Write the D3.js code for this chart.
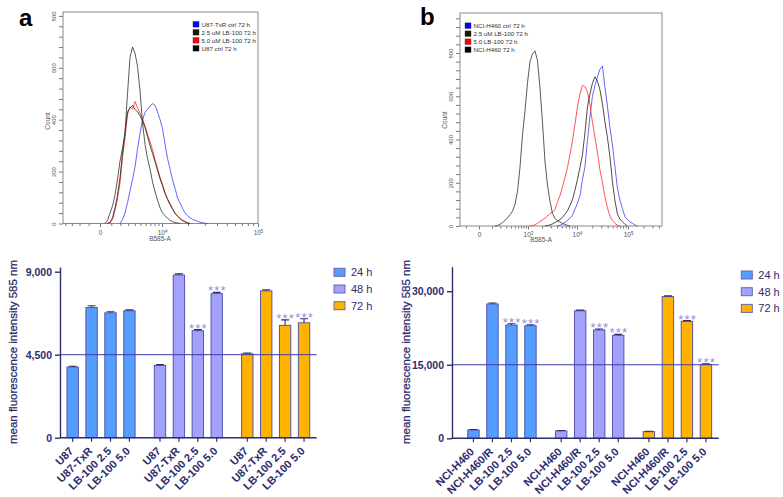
<!DOCTYPE html>
<html>
<head>
<meta charset="utf-8">
<script src="https://cdnjs.cloudflare.com/ajax/libs/d3/7.8.5/d3.min.js"></script>
<style>
  body { margin: 0; background: #fff; }
  svg { font-family: "Liberation Sans", Arial, sans-serif; display: block; }
</style>
</head>
<body>
<script>
// ---- flow histograms: bin centres (B585-A) and counts per bin ----
var binsA = [200, 410, 635, 870, 1120, 1380, 1650, 1940, 2250, 2570, 2910, 3270, 3650, 4050, 4470,
  4910, 5380, 5870, 6390, 6930, 7510, 8120, 8760, 9440, 10150, 10900, 11690, 12520, 13400, 14330,
  15310, 16340, 17420, 18570, 19780, 21050, 22390, 23800, 25290, 26860, 28520, 30270, 32110, 34050];
var u87TxrA = [0,0,0,0,0,0,0,0,15,40, 80,125,170,219,288,348,400,428,440,452,
  462,455,430,400,365,305,250,210,168,135, 98,78,58,40,30,22,16,12,8,5, 3,1,0,0];
var lb25A = [0,0,0,5,22,60,108,175,270,350, 430,445,455,440,430,415,395,370,335,300,
  270,238,205,172,145,115,92,72,55,38, 28,18,11,6,2,0,0,0,0,0, 0,0,0,0];
var lb50A = [0,0,0,2,15,50,95,156,255,330, 420,450,440,470,445,425,405,375,345,315,
  285,245,212,178,150,118,95,78,58,40, 30,20,13,8,3,0,0,0,0,0, 0,0,0,0];
var u87A = [0,0,12,40,68,110,170,240,290,349, 500,640,680,655,605,510,385,305,250,210,
  160,122,90,60,40,30,20,12,7,4, 2,0,0,0,0,0,0,0,0,0, 0,0,0,0];
var histLegendA = ["U87-TxR ctrl 72 h", "2.5 uM LB-100 72 h", "5.0 uM LB-100 72 h", "U87 ctrl 72 h"];

var binsB = [131, 162, 196, 234, 276, 324, 377, 436, 503, 578, 661, 754, 858, 975, 1106, 1252, 1415,
  1598, 1802, 2031, 2286, 2572, 2893, 3250, 3651, 4099, 4600, 5160, 5787, 6488, 7273, 8150, 9132,
  10230, 11460, 12840, 14370, 16090, 18020, 20170, 22580, 25270, 28280, 31650, 35420, 39630, 44350,
  49620, 55530, 62130, 69520, 77780, 87020, 97350, 108900, 121900, 136300, 152500, 170600];
var h460CtrlB = [0,0,0,0,0,0,0,0,0,0, 0,0,0,0,0,0,0,0,0,0, 0,0,0,0,0,0,3,9,17,26,
  36,50,78,105,140,215,274,395,505,600, 650,690,725,740,640,555,455,375,275,175,
  120,80,43,30,20,12,5,0,0];
var lb25B = [0,0,0,0,0,0,0,0,0,0, 0,0,0,0,0,0,0,0,0,0, 0,2,5,10,16,22,30,40,55,70,
  95,122,165,215,270,330,430,550,610,660, 690,670,630,565,480,410,320,205,118,55,
  32,20,8,0,0,0,0,0,0];
var lb50B = [0,0,0,0,0,0,0,0,0,0, 0,0,0,0,0,2,6,12,20,28, 36,46,58,65,75,110,140,180,225,270,
  330,395,470,550,610,650,645,620,560,480, 410,340,260,200,135,85,45,25,12,4,
  0,0,0,0,0,0,0,0,0];
var h460B = [0,2,8,16,25,38,52,68,100,160, 270,420,530,660,760,795,810,765,640,480,
  300,190,115,58,35,25,18,12,7,3, 0,0,0,0,0,0,0,0,0,0, 0,0,0,0,0,0,0,0,0,0,
  0,0,0,0,0,0,0,0,0];
var histLegendB = ["NCI-H460 ctrl 72 h", "2.5 uM LB-100 72 h", "5.0 LB-100 72 h", "NCI-H460 72 h"];

// ---- bar charts: mean fluorescence intensity 585 nm ----
var times = ["24 h", "48 h", "72 h"];

var cellsA = ["U87", "U87-TxR", "LB-100 2.5", "LB-100 5.0"];
var meanA24 = [3830, 7060, 6770, 6880];
var meanA48 = [3920, 8820, 5800, 7810];
var meanA72 = [4550, 7960, 6090, 6230];
var errA24 = [40, 90, 60, 50];
var errA48 = [40, 60, 60, 70];
var errA72 = [40, 60, 300, 220];
var sigA24 = ["", "", "", ""];
var sigA48 = ["", "", "***", "***"];
var sigA72 = ["", "", "***", "***"];
var yTicksA = [0, 4500, 9000];
var refA = 4500;

var cellsB = ["NCI-H460", "NCI-H460/R", "LB-100 2.5", "LB-100 5.0"];
var meanB24 = [1700, 27400, 23100, 22950];
var meanB48 = [1500, 26000, 22100, 21000];
var meanB72 = [1350, 28900, 23850, 15050];
var errB24 = [100, 200, 250, 200];
var errB48 = [100, 150, 200, 200];
var errB72 = [100, 150, 150, 150];
var sigB24 = ["", "", "***", "***"];
var sigB48 = ["", "", "***", "***"];
var sigB72 = ["", "", "***", "***"];
var yTicksB = [0, 15000, 30000];
var refB = 15000;

var ink = "#2d2d6e";
var timeColors = ["#559dff", "#a2a2fd", "#ffb300"];
var histLine = ["#3c3cff", "#20200f", "#ff2a2a", "#303030"];
var histBox = ["#0000ff", "#1a1a00", "#ff0000", "#000000"];

var svg = d3.select("body").append("svg").attr("width", 783).attr("height", 497);

function drawHist(h) {
    var x = d3.scaleSymlog().constant(h.c).domain(h.xDomain).range([h.left, h.right]);
    var y = d3.scaleLinear().domain([0, h.yMax]).range([h.bottom, h.top]);
    var g = svg.append("g");

    // y axis, minor every 40, labels every 200
    var gy = g.append("g").attr("transform", "translate(" + h.left + ",0)")
        .call(d3.axisLeft(y).tickValues(d3.range(0, h.yMax, 40)).tickSize(4)
            .tickFormat(d => d % 200 === 0 ? d : ""));
    gy.select(".domain").remove();
    gy.selectAll("line").attr("stroke", "#777");
    gy.selectAll("text").attr("x", 0).attr("y", -7).attr("dy", 0)
        .attr("transform", "rotate(-90)").style("text-anchor", "middle")
        .attr("font-size", "6px").attr("fill", "#555");

    var gx = g.append("g").attr("transform", "translate(0," + h.bottom + ")")
        .call(d3.axisBottom(x).tickValues(h.minors).tickSize(2.5).tickFormat(""));
    gx.select(".domain").remove();
    gx.selectAll("line").attr("stroke", "#777");
    var gxm = g.append("g").attr("transform", "translate(0," + h.bottom + ")")
        .call(d3.axisBottom(x).tickValues(h.majors).tickSize(3.5).tickPadding(3).tickFormat(""));
    gxm.select(".domain").remove();
    gxm.selectAll("line").attr("stroke", "#777");
    gxm.selectAll(".tick text").attr("font-size", "6.5px").attr("fill", "#555").each(function(d) {
        var t = d3.select(this);
        if (d === 0) { t.text("0"); return; }
        t.append("tspan").text("10");
        t.append("tspan").attr("dy", "-0.45em").attr("font-size", "4.5px").text(Math.round(Math.log10(d)));
    });

    g.append("rect").attr("x", h.left).attr("y", h.top)
        .attr("width", h.right - h.left).attr("height", h.bottom - h.top)
        .attr("fill", "none").attr("stroke", "#8a8a8a").attr("stroke-width", 1);

    var line = d3.line().x(d => x(d[0])).y(d => y(d[1]));
    [0, 2, 1, 3].forEach(function(si) {
        var counts = h.series[si];
        var pts = h.bins.map((b, i) => [b, counts[i]]);
        var first = counts.findIndex(v => v > 0);
        var last = counts.length - 1 - counts.slice().reverse().findIndex(v => v > 0);
        pts = pts.slice(Math.max(first - 1, 0), Math.min(last + 2, pts.length));
        g.append("path").datum(pts).attr("d", line)
            .attr("fill", "none").attr("stroke", histLine[si]).attr("stroke-width", 0.8);
    });

    var leg = g.selectAll(".hleg").data(h.legend).enter().append("g")
        .attr("transform", (d, i) => "translate(" + h.legX + "," + (h.legY + i * 8) + ")");
    leg.append("rect").attr("x", 0).attr("y", -2.8).attr("width", 6).attr("height", 5.6)
        .attr("fill", (d, i) => histBox[i]).attr("stroke", "#333").attr("stroke-width", 0.4);
    leg.append("text").attr("x", 8.5).attr("y", 2.2).attr("font-size", "6.2px").attr("fill", "#333").text(d => d);

    g.append("text").attr("transform", "translate(" + h.countX + "," + h.countY + ") rotate(-90)")
        .attr("text-anchor", "middle").attr("font-size", "6.5px").attr("fill", "#555").text("Count");
    g.append("text").attr("x", h.labelX).attr("y", h.labelY)
        .attr("text-anchor", "middle").attr("font-size", "6.5px").attr("fill", "#555").text("B585-A");
}

function drawBars(b) {
    var x0 = d3.scaleBand().domain(times).range([b.left, b.right])
        .paddingInner(0.22).paddingOuter(b.po).align(b.align);
    var x1 = d3.scaleBand().domain(b.cats).range([0, x0.bandwidth()]).paddingInner(0.4);
    var y = d3.scaleLinear().domain([0, b.yMax]).range([b.base, b.top]);
    var g = svg.append("g");

    var rows = [];
    times.forEach(function(t, gi) {
        b.cats.forEach(function(c, ci) {
            rows.push({ time: t, gi: gi, cat: c, mean: b.means[gi][ci], err: b.errs[gi][ci], sig: b.sigs[gi][ci] });
        });
    });
    var cx = d => x0(d.time) + x1(d.cat) + x1.bandwidth() / 2;

    g.selectAll(".bar").data(rows).enter().append("rect")
        .attr("x", d => x0(d.time) + x1(d.cat))
        .attr("y", d => y(d.mean))
        .attr("width", x1.bandwidth())
        .attr("height", d => b.base - y(d.mean))
        .attr("fill", d => timeColors[d.gi])
        .attr("stroke", "#5656a8").attr("stroke-width", 1);

    g.selectAll(".err").data(rows).enter().append("path")
        .attr("d", d => "M" + cx(d) + "," + y(d.mean) + "V" + y(d.mean + d.err)
            + "M" + (cx(d) - 4) + "," + y(d.mean + d.err) + "H" + (cx(d) + 4))
        .attr("stroke", ink).attr("stroke-width", 1.1).attr("fill", "none");

    g.selectAll(".sig").data(rows.filter(d => d.sig)).enter().append("text")
        .attr("x", d => cx(d) + 0.6).attr("y", d => y(d.mean + d.err) + 3)
        .attr("text-anchor", "middle").attr("font-size", "13px").attr("letter-spacing", "1.2px")
        .attr("fill", "#9090d8").text(d => d.sig);

    // reference line drawn over the bars
    g.append("line").attr("x1", b.left).attr("x2", b.right)
        .attr("y1", y(b.ref)).attr("y2", y(b.ref))
        .attr("stroke", "#3c3caa").attr("stroke-width", 1);

    var gy = g.append("g").attr("transform", "translate(" + b.left + ",0)")
        .call(d3.axisLeft(y).tickValues(b.ticks).tickSize(5).tickSizeOuter(0).tickPadding(3)
            .tickFormat(d3.format(",")));
    gy.select(".domain").attr("stroke", ink).attr("stroke-width", 1.4);
    gy.selectAll("line").attr("stroke", ink).attr("stroke-width", 1.4);
    gy.selectAll("text").attr("font-size", "10.5px").attr("font-weight", "bold").attr("fill", ink);

    g.append("line").attr("x1", b.left).attr("x2", b.right).attr("y1", b.base).attr("y2", b.base)
        .attr("stroke", ink).attr("stroke-width", 1.4);
    g.selectAll(".xt").data(rows).enter().append("line")
        .attr("x1", cx).attr("x2", cx).attr("y1", b.base).attr("y2", b.base + 4)
        .attr("stroke", ink).attr("stroke-width", 1.2);
    g.selectAll(".xl").data(rows).enter().append("text")
        .attr("transform", d => "translate(" + (cx(d) + 1.5) + "," + (b.base + 14) + ") rotate(-45)")
        .attr("text-anchor", "end").attr("font-size", "11px").attr("font-weight", "bold")
        .attr("fill", ink).text(d => d.cat);

    g.append("text").attr("transform", "translate(" + b.titleX + "," + b.titleY + ") rotate(-90)")
        .attr("text-anchor", "middle").attr("font-size", "11.5px").attr("fill", ink)
        .attr("stroke", ink).attr("stroke-width", 0.25)
        .text("mean fluorescence intensity 585 nm");

    var leg = g.selectAll(".bleg").data(times).enter().append("g")
        .attr("transform", (d, i) => "translate(" + b.legX + "," + (b.legY + i * 16.7) + ")");
    leg.append("rect").attr("x", 0).attr("y", -4).attr("width", 11).attr("height", 8)
        .attr("fill", (d, i) => timeColors[i]).attr("stroke", "#6a6aa8").attr("stroke-width", 1);
    leg.append("text").attr("x", 17).attr("y", 4).attr("font-size", "11px").attr("fill", ink).text(d => d);
}

drawHist({
    left: 63, right: 258, top: 12, bottom: 223.5, c: 3700, xDomain: [-4376, 1e5], yMax: 815,
    bins: binsA, series: [u87TxrA, lb25A, lb50A, u87A], legend: histLegendA,
    majors: [0, 1e4, 1e5],
    minors: d3.range(-4000, 0, 1000).concat(d3.range(1000, 10000, 1000), d3.range(20000, 100000, 10000)),
    legX: 193, legY: 24.3, countX: 50, countY: 121, labelX: 160, labelY: 241
});
drawHist({
    left: 460, right: 662, top: 13, bottom: 226, c: 125, xDomain: [-168, 459500], yMax: 985,
    bins: binsB, series: [h460CtrlB, lb25B, lb50B, h460B], legend: histLegendB,
    majors: [0, 1e3, 1e4, 1e5],
    minors: [-100].concat(d3.range(100, 1000, 100), d3.range(2000, 10000, 1000),
        d3.range(20000, 100000, 10000), d3.range(200000, 500000, 100000)),
    legX: 465, legY: 25.7, countX: 447, countY: 120, labelX: 541, labelY: 242
});

drawBars({
    left: 60, right: 316.7, base: 437.7, top: 267, yMax: 9255, po: 0.08, align: 0.5,
    cats: cellsA, means: [meanA24, meanA48, meanA72], errs: [errA24, errA48, errA72],
    sigs: [sigA24, sigA48, sigA72], ticks: yTicksA, ref: refA,
    titleX: 16.5, titleY: 352, legX: 334, legY: 272.3
});
drawBars({
    left: 452, right: 718.7, base: 438.3, top: 266.7, yMax: 35000, po: 0.13, align: 0.69,
    cats: cellsB, means: [meanB24, meanB48, meanB72], errs: [errB24, errB48, errB72],
    sigs: [sigB24, sigB48, sigB72], ticks: yTicksB, ref: refB,
    titleX: 409.7, titleY: 352, legX: 741.3, legY: 275
});

svg.append("text").attr("x", 19).attr("y", 26).attr("font-size", "24px").attr("font-weight", "bold").text("a");
svg.append("text").attr("x", 420).attr("y", 25).attr("font-size", "24px").attr("font-weight", "bold").text("b");
</script>
</body>
</html>
